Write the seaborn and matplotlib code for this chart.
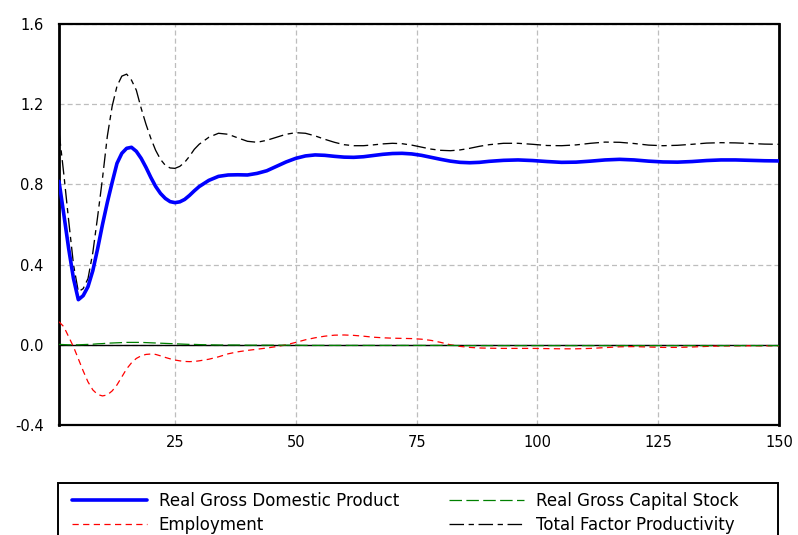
import matplotlib
matplotlib.use("Agg")
import matplotlib.pyplot as plt
from matplotlib.patches import Rectangle
from matplotlib.lines import Line2D
import pandas as pd
import seaborn as sns

# Simulation period
time = [1, 2, 3, 4, 5, 6, 7, 8, 9, 10, 11, 12, 13, 14, 15, 16, 17, 18, 19, 20,
        21, 22, 23, 24, 25, 26, 27, 28, 29, 30, 32, 34, 36, 38, 40, 42, 44, 46, 48, 50,
        52, 54, 56, 58, 60, 62, 64, 66, 68, 70, 72, 74, 76, 78, 80, 82, 84, 86, 88, 90,
        93, 96, 99, 102, 105, 108, 111, 114, 117, 120, 123, 126, 129, 132, 135, 138, 141, 144, 147, 150]

real_gdp = [0.815, 0.65, 0.48, 0.33, 0.225, 0.245, 0.29, 0.37, 0.48, 0.60,
            0.71, 0.81, 0.905, 0.955, 0.98, 0.985, 0.965, 0.93, 0.885, 0.835,
            0.79, 0.755, 0.73, 0.714, 0.709, 0.713, 0.725, 0.745, 0.768, 0.789,
            0.82, 0.84, 0.847, 0.848, 0.847, 0.855, 0.868, 0.89, 0.912, 0.93,
            0.942, 0.947, 0.945, 0.94, 0.936, 0.935, 0.938, 0.944, 0.95, 0.954,
            0.955, 0.952, 0.945, 0.935, 0.925, 0.916, 0.91, 0.908, 0.91, 0.915,
            0.92, 0.922, 0.919, 0.914, 0.91, 0.911, 0.916, 0.922, 0.925, 0.922,
            0.916, 0.912, 0.911, 0.914, 0.919, 0.922, 0.922, 0.92, 0.918, 0.917]

employment = [0.115, 0.09, 0.04, -0.01, -0.07, -0.13, -0.185, -0.225, -0.248, -0.255,
              -0.25, -0.23, -0.2, -0.16, -0.12, -0.09, -0.068, -0.055, -0.048, -0.046,
              -0.048, -0.055, -0.063, -0.07, -0.076, -0.08, -0.083, -0.084, -0.083, -0.08,
              -0.072, -0.06, -0.045, -0.035, -0.028, -0.022, -0.016, -0.009, 0.0, 0.012,
              0.025, 0.035, 0.043, 0.048, 0.049, 0.047, 0.043, 0.038, 0.035, 0.033,
              0.032, 0.031, 0.028, 0.022, 0.012, 0.0, -0.008, -0.013, -0.016, -0.017,
              -0.018, -0.018, -0.018, -0.019, -0.02, -0.02, -0.018, -0.014, -0.01, -0.009,
              -0.011, -0.013, -0.013, -0.011, -0.008, -0.006, -0.005, -0.005, -0.005, -0.005]

capital_stock = [0.002, 0.001, 0.0, 0.0, 0.0, 0.001, 0.002, 0.003, 0.005, 0.006,
                 0.008, 0.009, 0.01, 0.011, 0.012, 0.012, 0.012, 0.012, 0.011, 0.01,
                 0.009, 0.008, 0.007, 0.006, 0.005, 0.004, 0.003, 0.002, 0.002, 0.001,
                 0.0, -0.001, -0.001, -0.001, -0.002, -0.002, -0.002, -0.002, -0.002, -0.002,
                 -0.003, -0.003, -0.003, -0.003, -0.003, -0.003, -0.003, -0.003, -0.003, -0.003,
                 -0.003, -0.003, -0.003, -0.003, -0.003, -0.003, -0.004, -0.004, -0.004, -0.004,
                 -0.004, -0.004, -0.004, -0.004, -0.004, -0.004, -0.004, -0.004, -0.004, -0.004,
                 -0.004, -0.004, -0.004, -0.004, -0.004, -0.004, -0.004, -0.004, -0.004, -0.004]

tfp = [1.065, 0.85, 0.62, 0.40, 0.265, 0.28, 0.33, 0.46, 0.64, 0.83,
       1.04, 1.19, 1.29, 1.34, 1.35, 1.32, 1.27, 1.18, 1.10, 1.03,
       0.97, 0.925, 0.895, 0.882, 0.88, 0.89, 0.91, 0.94, 0.975, 1.0,
       1.035, 1.055, 1.05, 1.032, 1.015, 1.01, 1.02, 1.035, 1.05, 1.058,
       1.055, 1.042, 1.025, 1.01, 0.998, 0.993, 0.993, 0.997, 1.002, 1.005,
       1.003, 0.996, 0.986, 0.976, 0.97, 0.968, 0.972, 0.98, 0.99, 0.998,
       1.005, 1.005, 1.0, 0.994, 0.993, 0.997, 1.005, 1.011, 1.01, 1.004,
       0.996, 0.993, 0.995, 1.0, 1.006, 1.008, 1.007, 1.004, 1.001, 1.0]

x_ticks = [25, 50, 75, 100, 125, 150]
y_ticks = [-0.4, 0.0, 0.4, 0.8, 1.2, 1.6]

df = pd.DataFrame({
    "time": time,
    "Real Gross Domestic Product": real_gdp,
    "Employment": employment,
    "Real Gross Capital Stock": capital_stock,
    "Total Factor Productivity": tfp,
})

sns.set_theme(style="white")
plt.rcParams["font.family"] = ["DejaVu Sans"]
plt.rcParams["text.color"] = "black"

W, H = 798, 535
fig = plt.figure(figsize=(W / 100, H / 100), dpi=100)
ax = fig.add_axes([59 / W, 1 - 425 / H, (779 - 59) / W, (425 - 24) / H])

# series styling: (column, colour, width, dash pattern)
series = [
    ("Real Gross Domestic Product", "#0000ff", 2.6, "-"),
    ("Employment", "#ff0000", 0.9, (0, (5, 3.5))),
    ("Real Gross Capital Stock", "#008000", 0.9, (0, (10, 3.5))),
    ("Total Factor Productivity", "#000000", 0.95, (0, (11, 3.5, 4, 3.5))),
]

ax.axhline(0, color="black", lw=1.0, zorder=1.5)
draw_order = [1, 2, 3, 0]
for i in draw_order:
    col, color, lw, ls = series[i]
    sns.lineplot(data=df, x="time", y=col, ax=ax, color=color, linewidth=lw,
                 linestyle=ls, sort=False, zorder=3 + (i == 0))

ax.set_xlim(1, 150)
ax.set_ylim(-0.4, 1.6)
ax.set_xticks(x_ticks)
ax.set_xticklabels([str(t) for t in x_ticks])
ax.set_yticks(y_ticks)
ax.set_yticklabels([f"{v:.1f}" for v in y_ticks])
ax.set_xlabel("")
ax.set_ylabel("")
ax.tick_params(axis="both", length=0, labelsize=10.5, colors="black")
ax.tick_params(axis="y", pad=11)
ax.tick_params(axis="x", pad=7)
ax.grid(True, color="#bdbdbd", linestyle=(0, (4, 2.5)), linewidth=0.9)
for s in ax.spines.values():
    s.set_color("black")
    s.set_linewidth(1.6)
ax.spines["left"].set_linewidth(2.0)
ax.spines["right"].set_linewidth(2.0)

# legend panel below the plot
fig.patches.append(Rectangle((58 / W, -0.05), (778 - 58) / W, 0.05 + (535 - 483) / H,
                             transform=fig.transFigure, fill=False,
                             edgecolor="black", linewidth=1.4))
handles = [Line2D([], [], color=c, lw=lw, linestyle=ls) for (_, c, lw, ls) in series]
labels = [s[0] for s in series]
fig.legend(handles, labels, loc="upper left",
           bbox_to_anchor=(72 / W, 1 - 492 / H), ncol=2, frameon=False,
           fontsize=12, labelcolor="black", handlelength=4.5, handletextpad=0.7,
           labelspacing=0.37, columnspacing=3.0, borderpad=0, borderaxespad=0)

fig.savefig("out.png", dpi=100)
